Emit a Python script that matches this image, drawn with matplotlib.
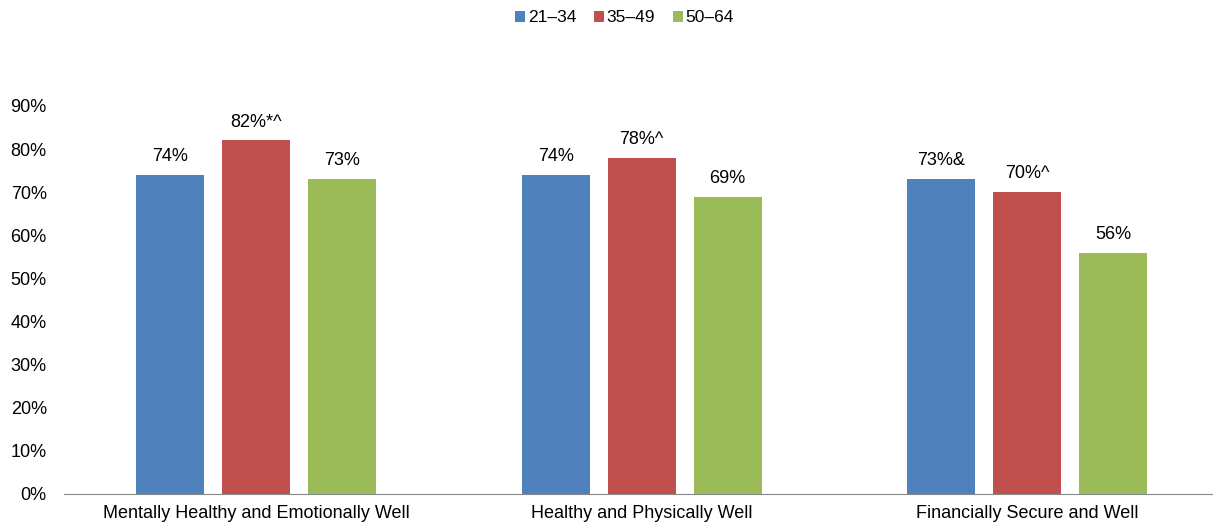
import numpy as np
import matplotlib
matplotlib.use('Agg')
import matplotlib.pyplot as plt

plt.rcParams['font.family'] = ['Liberation Sans', 'DejaVu Sans']

categories = ['Mentally Healthy and Emotionally Well',
              'Healthy and Physically Well',
              'Financially Secure and Well']
age_groups = ['21\u201334', '35\u201349', '50\u201364']
vals_21_34 = [74, 74, 73]
vals_35_49 = [82, 78, 70]
vals_50_64 = [73, 69, 56]
labels_21_34 = ['74%', '74%', '73%&']
labels_35_49 = ['82%*^', '78%^', '70%^']
labels_50_64 = ['73%', '69%', '56%']
yticks = [0, 10, 20, 30, 40, 50, 60, 70, 80, 90]

colors = ['#4F81BD', '#C0504D', '#9BBB59']

fig = plt.figure(figsize=(12.13, 5.29), dpi=100)
ax = fig.add_axes([63.5 / 1213, 35 / 529, 1156.5 / 1213, (494 - 106) / 529])

x = np.arange(len(categories))
w = 0.177
step = 0.223
series = [vals_21_34, vals_35_49, vals_50_64]
labels = [labels_21_34, labels_35_49, labels_50_64]
for i, (vals, labs) in enumerate(zip(series, labels)):
    bars = ax.bar(x + (i - 1) * step, vals, width=w, color=colors[i], label=age_groups[i])
    for b, lab in zip(bars, labs):
        ax.text(b.get_x() + b.get_width() / 2, b.get_height() + 2.3, lab,
                ha='center', va='bottom', fontsize=13)

ax.set_xlim(-0.5, 2.5)
ax.set_ylim(0, 90)
ax.set_yticks(yticks)
ax.set_yticklabels([f'{t}%' for t in yticks], fontsize=13)
ax.set_xticks(x)
ax.set_xticklabels(categories, fontsize=13)
ax.tick_params(axis='both', length=0)
ax.tick_params(axis='y', pad=12)
ax.tick_params(axis='x', pad=8)
for s in ['top', 'right', 'left']:
    ax.spines[s].set_visible(False)
ax.spines['bottom'].set_color('#898989')

ax.legend(loc='center', bbox_to_anchor=(0.485, 1.227), ncol=3, frameon=False,
          fontsize=12.5, handlelength=0.6, handleheight=0.6, handletextpad=0.15,
          columnspacing=1.0)

fig.savefig('out.png', dpi=100)
